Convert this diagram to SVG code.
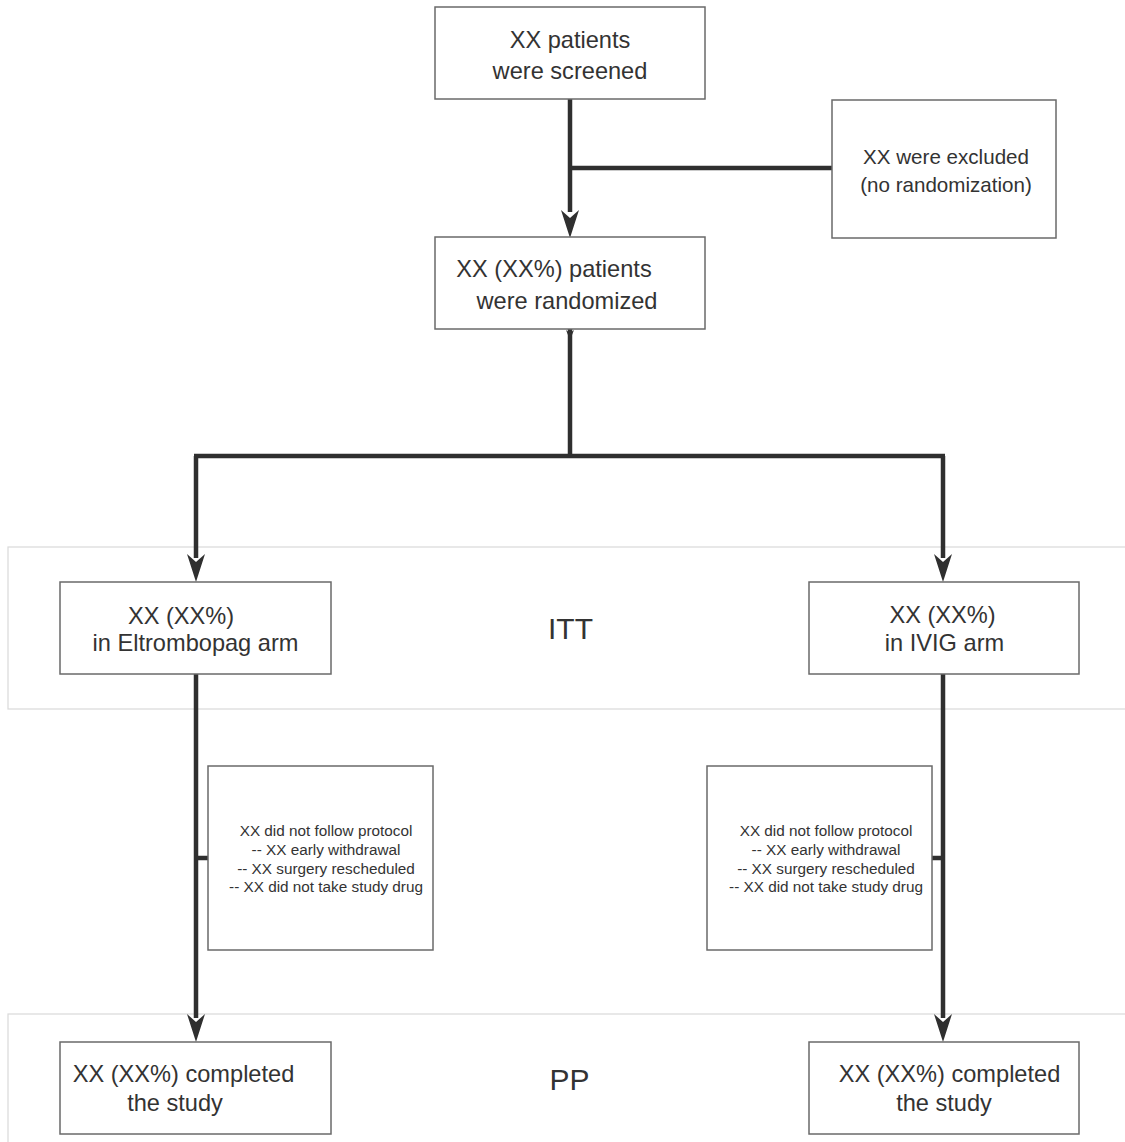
<svg xmlns="http://www.w3.org/2000/svg" width="1125" height="1142" viewBox="0 0 1125 1142">
<style>
.band{fill:none;stroke:#d9d9d9;stroke-width:1.2}
.box{fill:#fff;stroke:#6a6a6a;stroke-width:1.5}
.ln{fill:none;stroke:#2f2f2f;stroke-width:4.5}
.ah{fill:#2f2f2f}
text{font-family:"Liberation Sans",Arial,sans-serif;fill:#333;text-anchor:middle}
.t{font-size:23.6px}
.te{font-size:20.6px}
.ts{font-size:15.3px}
.tb{font-size:30px}
</style>
<rect width="1125" height="1142" fill="#fff"/>
<g id="band-itt">
<rect class="band" x="8" y="547" width="1130" height="162"/>
<text class="tb" x="570.5" y="639">ITT</text>
</g>
<g id="band-pp">
<rect class="band" x="8" y="1014" width="1130" height="140"/>
<text class="tb" x="569.5" y="1090">PP</text>
</g>
<g id="connectors">
<path class="ln" d="M570 99V212"/>
<path class="ln" d="M570 168H832"/>
<path class="ln" d="M570 329V456"/>
<path class="ln" d="M194 456H945"/>
<path class="ln" d="M196 456V558"/>
<path class="ln" d="M943 456V558"/>
<path class="ln" d="M196 674V1018"/>
<path class="ln" d="M943 674V1018"/>
<path class="ln" d="M196 858H208"/>
<path class="ln" d="M932 858H943"/>
<polygon class="ah" points="570,238 561,210 570,218 579,210"/>
<polygon class="ah" points="570,340 566,330 570,333 574,330"/>
<polygon class="ah" points="196,582 187,554 196,562 205,554"/>
<polygon class="ah" points="943,582 934,554 943,562 952,554"/>
<polygon class="ah" points="196,1042 187,1014 196,1022 205,1014"/>
<polygon class="ah" points="943,1042 934,1014 943,1022 952,1014"/>
</g>
<g id="screened">
<rect class="box" x="435" y="7" width="270" height="92"/>
<text class="t" x="570" y="48">XX patients</text>
<text class="t" x="570" y="79">were screened</text>
</g>
<g id="excluded">
<rect class="box" x="832" y="100" width="224" height="138"/>
<text class="te" x="946" y="164">XX were excluded</text>
<text class="te" x="946" y="192">(no randomization)</text>
</g>
<g id="randomized">
<rect class="box" x="435" y="237" width="270" height="92"/>
<text class="t" x="554" y="277">XX (XX%) patients</text>
<text class="t" x="567" y="309">were randomized</text>
</g>
<g id="eltrombopag">
<rect class="box" x="60" y="582" width="271" height="92"/>
<text class="t" x="181" y="624">XX (XX%)</text>
<text class="t" x="195.5" y="651">in Eltrombopag arm</text>
</g>
<g id="ivig">
<rect class="box" x="809" y="582" width="270" height="92"/>
<text class="t" x="942.5" y="623">XX (XX%)</text>
<text class="t" x="944.5" y="651">in IVIG arm</text>
</g>
<g id="excl-left">
<rect class="box" x="208" y="766" width="225" height="184"/>
<text class="ts" x="326" y="836">XX did not follow protocol</text>
<text class="ts" x="326" y="855">-- XX early withdrawal</text>
<text class="ts" x="326" y="874">-- XX surgery rescheduled</text>
<text class="ts" x="326" y="892">-- XX did not take study drug</text>
</g>
<g id="excl-right">
<rect class="box" x="707" y="766" width="225" height="184"/>
<text class="ts" x="826" y="836">XX did not follow protocol</text>
<text class="ts" x="826" y="855">-- XX early withdrawal</text>
<text class="ts" x="826" y="874">-- XX surgery rescheduled</text>
<text class="ts" x="826" y="892">-- XX did not take study drug</text>
</g>
<g id="completed-left">
<rect class="box" x="60" y="1042" width="271" height="92"/>
<text class="t" x="183.5" y="1082">XX (XX%) completed</text>
<text class="t" x="175" y="1111">the study</text>
</g>
<g id="completed-right">
<rect class="box" x="809" y="1042" width="270" height="92"/>
<text class="t" x="949.5" y="1082">XX (XX%) completed</text>
<text class="t" x="944" y="1111">the study</text>
</g>
</svg>
